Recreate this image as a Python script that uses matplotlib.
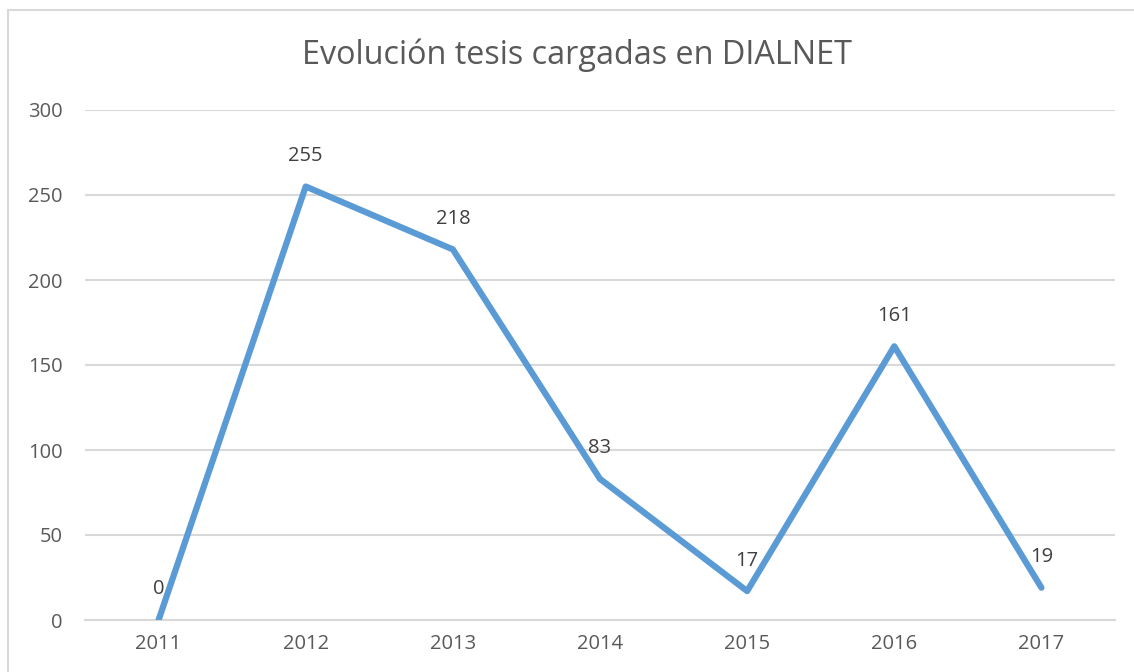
import matplotlib
matplotlib.use("Agg")
import matplotlib.pyplot as plt
from matplotlib.patches import Rectangle

years = ["2011", "2012", "2013", "2014", "2015", "2016", "2017"]
values = [0, 255, 218, 83, 17, 161, 19]
yticks = [0, 50, 100, 150, 200, 250, 300]
title = "Evolución tesis cargadas en DIALNET"

plt.rcParams['font.family'] = ['Open Sans', 'DejaVu Sans']
W, H = 1134, 672
fig = plt.figure(figsize=(W / 100, H / 100), dpi=100)
fig.patch.set_facecolor("white")

# chart border
fig.patches.append(Rectangle((8 / W, -0.1), 1.2, 1 - 10 / H + 0.1, transform=fig.transFigure,
                             fill=False, edgecolor="#D9D9D9", linewidth=1.5))

ax = fig.add_axes([85 / W, 1 - 620 / H, (1115 - 85) / W, (620 - 110) / H])
x = list(range(len(years)))
ax.plot(x, values, color="#5B9BD5", linewidth=4.5, solid_capstyle="round", solid_joinstyle="round", zorder=3)
for xi, v in zip(x, values):
    ax.annotate(str(v), (xi, v), xytext=(0, 22), textcoords="offset points",
                ha="center", va="center", fontsize=14.5, color="#404040", zorder=4)

ax.set_xlim(-0.5, len(years) - 0.5)
ax.set_ylim(0, 300)
ax.set_yticks(yticks)
ax.set_xticks(x)
ax.set_xticklabels(years)
ax.tick_params(axis="both", length=0, labelsize=14.5, colors="#595959")
ax.tick_params(axis="y", pad=16)
ax.tick_params(axis="x", pad=10)
ax.grid(axis="y", color="#D9D9D9", linewidth=1.5)
ax.set_axisbelow(True)
for s in ["top", "right", "left"]:
    ax.spines[s].set_visible(False)
ax.spines["bottom"].set_color("#D9D9D9")
ax.spines["bottom"].set_linewidth(1.5)
ax.set_facecolor("none")

fig.text(577.5 / W, 1 - 55 / H, title, ha="center", va="center", fontsize=23.3, color="#595959")

fig.savefig("out.png", dpi=100)
